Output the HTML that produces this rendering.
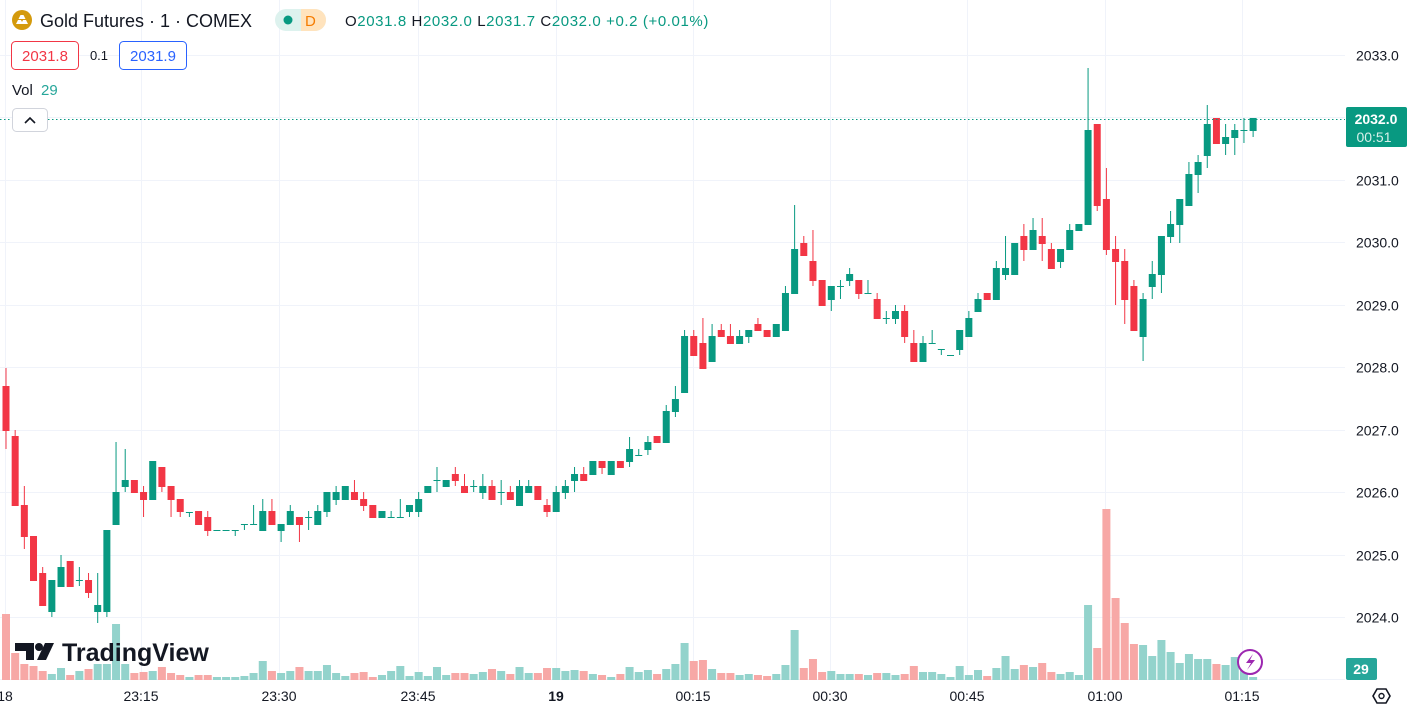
<!DOCTYPE html>
<html><head><meta charset="utf-8"><style>
html,body{margin:0;padding:0;background:#fff;}
body{width:1411px;height:714px;overflow:hidden;font-family:"Liberation Sans",sans-serif;}
</style></head><body>
<svg id="s" width="1411" height="714" xmlns="http://www.w3.org/2000/svg" style="position:absolute;left:0;top:0">
<g id="grid" stroke="#f0f3fa" stroke-width="1"></g>
<g id="vol"></g>
<g id="cdl"></g>
<line x1="0" y1="119.5" x2="1345" y2="119.5" stroke="#089981" stroke-width="1" stroke-dasharray="1.5,2.5"/>
<g font-size="14" fill="#131722" id="pax"></g>
<g font-size="14" fill="#131722" text-anchor="middle">
<text x="5" y="701">18</text><text x="141" y="701">23:15</text><text x="279" y="701">23:30</text><text x="418" y="701">23:45</text><text x="556" y="701" font-weight="bold">19</text><text x="693" y="701">00:15</text><text x="830" y="701">00:30</text><text x="967" y="701">00:45</text><text x="1105" y="701">01:00</text><text x="1242" y="701">01:15</text>
</g>
<rect x="1346" y="107" width="61" height="40" rx="2" fill="#089981"/>
<text x="1376" y="124" font-size="14" font-weight="bold" fill="#fff" text-anchor="middle">2032.0</text>
<text x="1374" y="142" font-size="14" fill="#d8f0ea" text-anchor="middle">00:51</text>
<rect x="1346" y="658" width="31" height="22" rx="2" fill="#26a69a"/>
<text x="1361" y="674" font-size="14" font-weight="bold" fill="#fff" text-anchor="middle">29</text>
<polygon points="1373,696 1377,689 1386,689 1390,696 1386,703 1377,703" fill="none" stroke="#131722" stroke-width="1.6"/>
<circle cx="1381.5" cy="696" r="2.5" fill="none" stroke="#131722" stroke-width="1.4"/>
<circle cx="1250" cy="662" r="12" fill="#fff" stroke="#9c27b0" stroke-width="2"/>
<path d="M1253,654 L1246,663 L1251,663 L1247,670 L1255,660 L1250,660 Z" fill="#9c27b0"/>
<path d="M15,643 H34 V660 H26 V651 H15 Z" fill="#131722"/>
<circle cx="39" cy="647" r="4" fill="#131722"/>
<path d="M45,643 H54 L46,660 H37 Z" fill="#131722"/>
<text x="62" y="661" font-size="25" font-weight="bold" fill="#131722">TradingView</text>
<circle cx="22" cy="20" r="10" fill="#d49a0c"/>
<path d="M16,24 L18,20 L21,20 L23,24 Z M21,24 L23,20 L26,20 L28,24 Z M18.5,19 L20.5,15 L23.5,15 L25.5,19 Z" fill="#fff"/>
<text x="40" y="27" font-size="18" fill="#131722">Gold Futures · 1 · COMEX</text>
<rect x="275" y="9" width="51" height="22" rx="11" fill="#ddf2ee"/>
<path d="M301,9 H315 A11,11 0 0 1 315,31 H301 Z" fill="#ffe3bd"/>
<circle cx="288" cy="20" r="4.5" fill="#089981"/>
<text x="305" y="26" font-size="15" fill="#f57c00">D</text>
<text x="345" y="26" font-size="15" letter-spacing="0.6" fill="#089981"><tspan fill="#131722">O</tspan>2031.8 <tspan fill="#131722">H</tspan>2032.0 <tspan fill="#131722">L</tspan>2031.7 <tspan fill="#131722">C</tspan>2032.0 +0.2 (+0.01%)</text>
<rect x="11.5" y="41.5" width="67" height="28" rx="4" fill="#fff" stroke="#f23645"/>
<text x="45" y="61" font-size="15" fill="#f23645" text-anchor="middle">2031.8</text>
<text x="99" y="60" font-size="13" fill="#131722" text-anchor="middle">0.1</text>
<rect x="119.5" y="41.5" width="67" height="28" rx="4" fill="#fff" stroke="#2962ff"/>
<text x="153" y="61" font-size="15" fill="#2962ff" text-anchor="middle">2031.9</text>
<text x="12" y="95" font-size="15" fill="#131722">Vol <tspan fill="#26a69a" dx="4">29</tspan></text>
<rect x="12.5" y="108.5" width="35" height="23" rx="4" fill="#fff" stroke="#d1d4dc"/>
<path d="M25,123 L30,118 L35,123" fill="none" stroke="#131722" stroke-width="1.6"/>
</svg>
<script>
var NS="http://www.w3.org/2000/svg";
function el(p,t,a){var e=document.createElementNS(NS,t);for(var k in a)e.setAttribute(k,a[k]);p.appendChild(e);return e;}
var g=document.getElementById('grid'),pax=document.getElementById('pax');
for(var k=0;k<=10;k++){var y=Math.round(55+k*62.44)+0.5;el(g,'line',{x1:0,x2:1345,y1:y,y2:y});
 if(k<=9){var t=el(pax,'text',{x:1356,y:y+5});t.textContent=(2033-k).toFixed(1);}}
[5,141,279,418,556,693,830,967,1105,1242].forEach(function(x){el(g,'line',{x1:x+0.5,x2:x+0.5,y1:0,y2:680});});
var C=[
[386,431,368,449,0],[436,506,430,506,0],[505,537,486,549,0],[536,581,536,581,0],[573,606,567,606,0],
[580,612,580,617,1],[567,587,555,587,1],[561,587,561,587,0],[580,581,567,586,1],[580,593,573,598,0],
[605,612,573,623,1],[530,612,530,617,1],[492,525,442,525,1],[480,487,449,492,1],[480,493,480,493,0],
[492,500,486,517,0],[461,500,461,500,1],[467,487,467,492,0],[486,500,486,517,0],[499,512,499,517,0],
[512,513,512,517,1],[511,525,511,525,0],[517,531,511,536,0],[530,531,530,531,1],[530,531,530,531,1],
[530,531,530,536,1],[524,525,524,530,1],[524,525,505,525,1],[511,531,499,531,1],[511,525,499,525,0],
[524,531,524,542,1],[511,525,505,525,1],[517,525,517,542,0],[517,518,511,530,1],[511,525,505,525,1],
[492,512,492,517,1],[492,500,486,505,1],[486,500,486,500,1],[492,500,480,500,0],[499,506,492,511,0],
[505,518,505,518,0],[511,518,511,518,1],[517,518,511,518,1],[517,518,499,518,1],[505,512,505,517,1],
[499,512,492,517,1],[486,493,486,493,1],[480,481,467,492,1],[480,487,480,487,1],[474,481,467,486,0],
[486,493,474,493,0],[486,487,480,492,1],[486,493,474,499,1],[486,500,480,500,0],[492,493,480,505,1],
[492,500,486,500,0],[486,506,480,506,1],[486,493,480,493,1],[486,500,486,500,0],[505,512,499,517,0],
[492,512,486,512,1],[486,493,480,499,1],[474,481,467,492,1],[474,481,467,481,0],[461,475,461,475,1],
[461,468,461,474,0],[461,475,461,475,1],[461,468,461,468,0],[449,462,437,467,1],[455,456,449,456,1],
[442,450,436,455,1],[436,443,436,443,0],[411,443,405,443,1],[399,412,386,417,1],[336,393,330,393,1],
[336,356,330,356,0],[343,369,318,369,0],[336,362,324,362,1],[330,337,324,337,0],[336,344,324,344,0],
[336,344,330,344,1],[330,337,330,343,1],[324,331,318,331,0],[330,337,330,337,0],[324,337,324,337,1],
[293,331,286,331,1],[249,294,205,294,1],[243,256,236,256,0],[261,281,230,286,0],[280,306,280,306,0],
[286,300,286,311,1],[286,287,280,299,1],[274,281,268,286,1],[280,294,280,299,0],[293,294,280,294,1],
[299,319,293,319,0],[318,319,311,324,1],[311,319,305,324,1],[311,337,305,343,0],[343,362,330,362,0],
[343,362,336,362,1],[343,344,330,344,1],[349,350,349,355,1],[355,356,355,356,1],[330,350,330,355,1],
[318,337,311,337,1],[299,312,293,312,1],[293,300,293,300,0],[268,300,261,300,1],[268,275,236,280,1],
[243,275,243,275,1],[236,250,224,261,0],[230,250,218,250,1],[236,244,218,261,0],[249,269,243,269,0],
[249,262,249,268,1],[230,250,224,250,1],[224,231,224,231,1],[130,225,68,225,1],[124,206,124,211,0],
[199,250,168,255,0],[249,262,236,305,0],[261,300,249,324,0],[286,331,280,331,0],[299,337,293,361,1],
[274,287,261,299,1],[236,275,236,293,1],[224,237,211,243,1],[199,225,199,243,1],[174,206,162,206,1],
[162,175,155,193,1],[124,156,105,168,1],[118,144,118,144,0],[137,144,124,155,1],[130,138,124,155,1],
[130,131,118,143,1],[118,131,118,137,1]];
var V=[614,653,664,666,671,674,668,675,671,669,664,664,624,664,673,672,671,667,673,675,677,675,675,677,677,677,676,673,661,671,673,671,667,671,671,665,673,676,673,672,677,675,671,666,676,672,676,667,675,673,673,674,672,669,671,674,667,673,673,668,668,671,670,671,674,675,677,674,667,672,
670,674,669,664,643,661,660,669,673,673,675,674,675,676,674,665,630,668,659,672,671,674,674,674,675,673,673,675,674,666,672,672,674,677,666,675,670,676,668,656,669,665,667,663,672,674,672,675,605,648,509,598,623,644,645,656,640,652,663,654,659,659,664,665,657,661,677];
var gv=document.getElementById('vol'),gc=document.getElementById('cdl');
for(var i=0;i<C.length;i++){var c=C[i],x=6+i*9.17,col=c[4]?'#089981':'#f23645';
 var vy=V[i];el(gv,'rect',{x:(x-4).toFixed(2),y:vy,width:8,height:680-vy,fill:c[4]?'#93d3cc':'#f7a8a6'});
 el(gc,'rect',{x:(x-0.5).toFixed(2),y:c[2],width:1,height:Math.max(1,c[3]-c[2]),fill:col});
 el(gc,'rect',{x:(x-3.5).toFixed(2),y:c[0],width:7,height:Math.max(1,c[1]-c[0]),fill:col});}
</script>
</body></html>
